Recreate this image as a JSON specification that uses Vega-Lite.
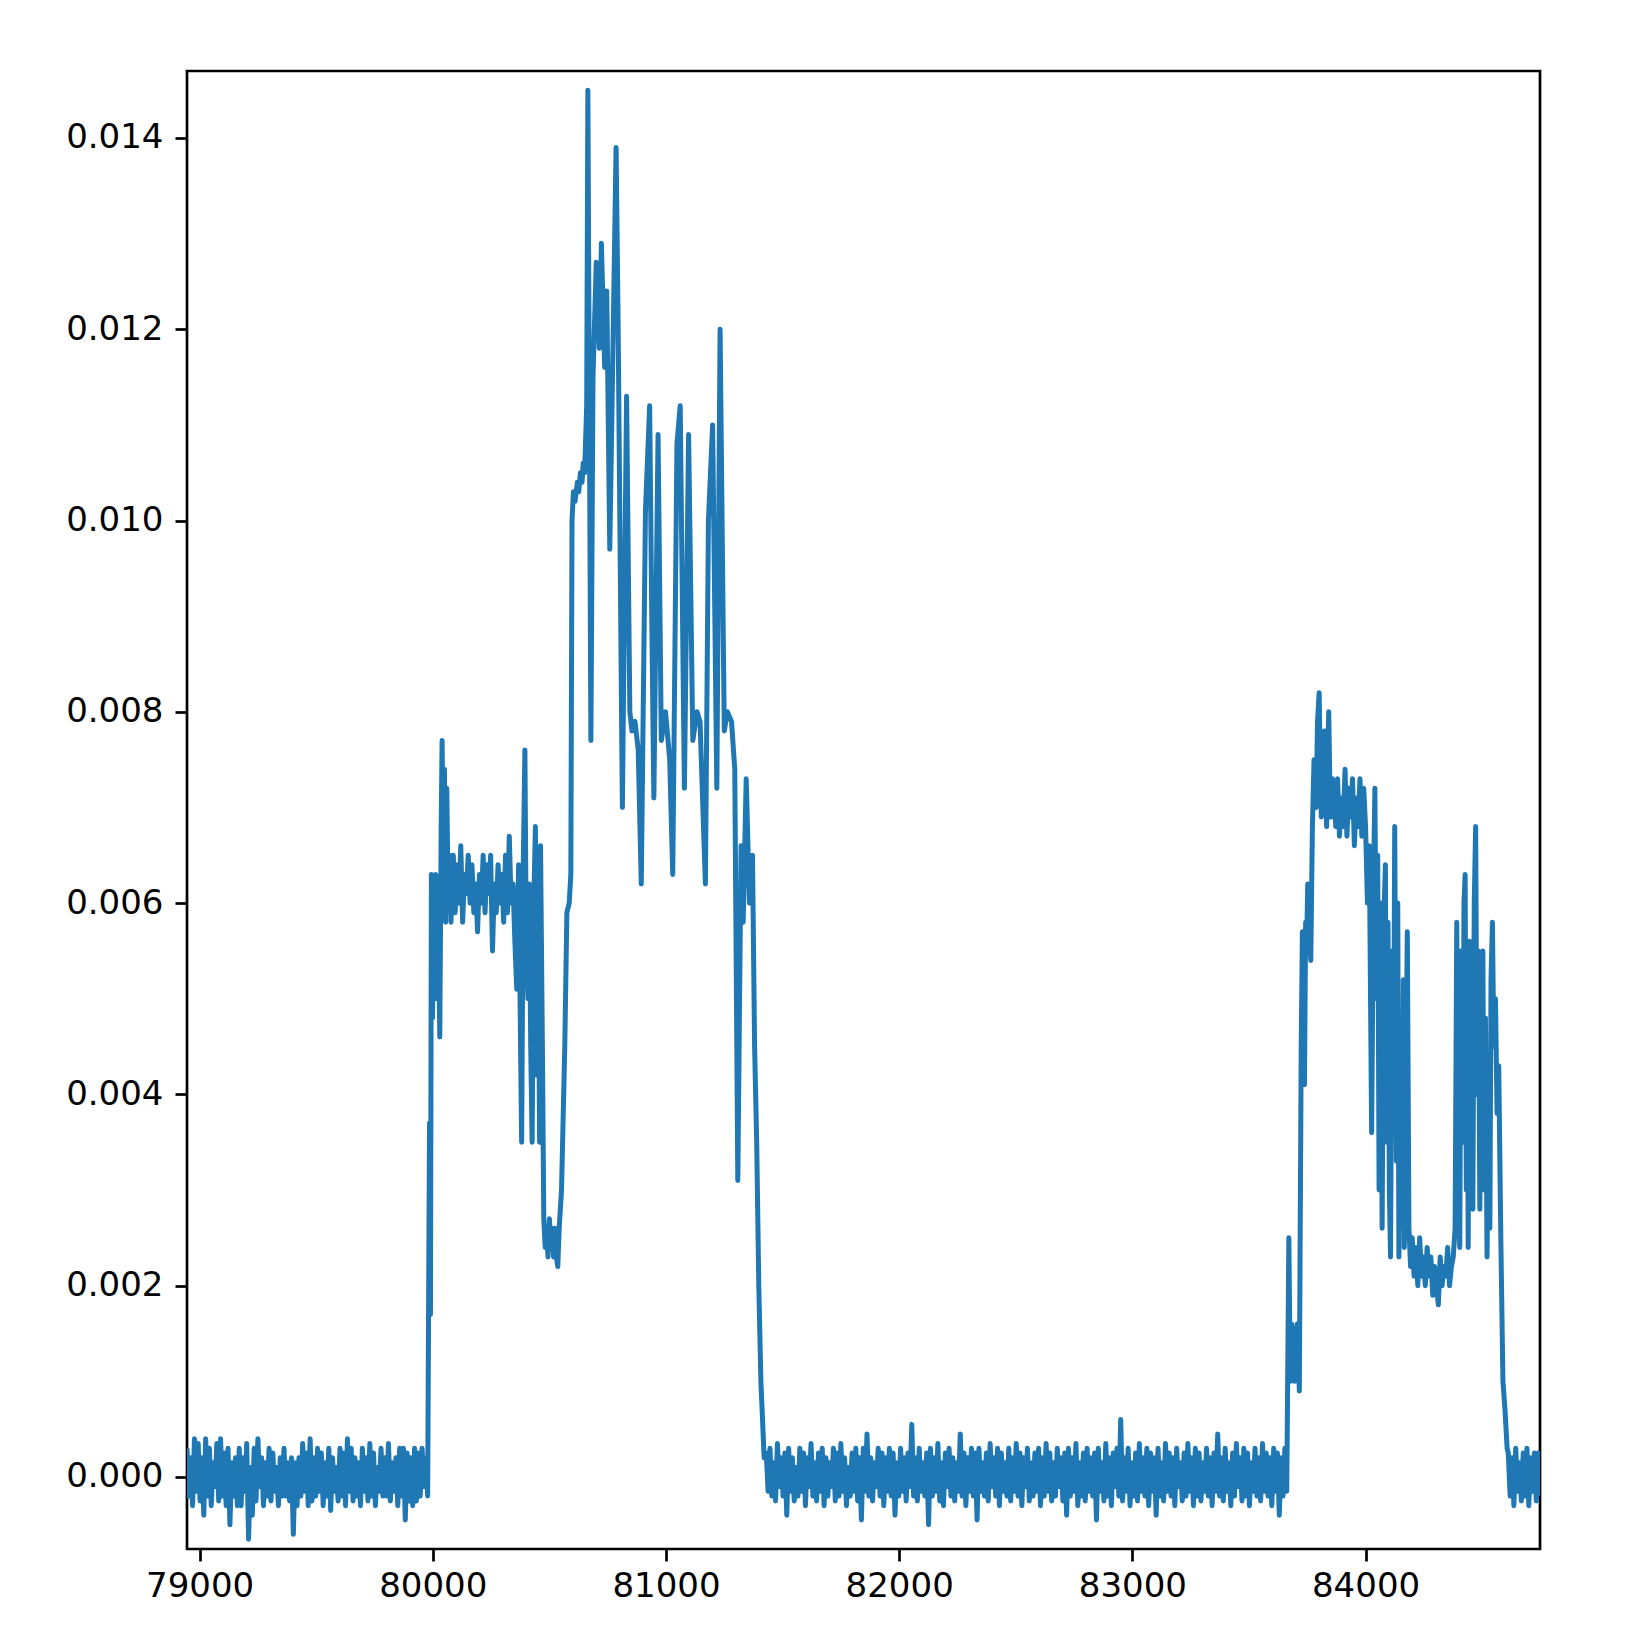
{
"$schema": "https://vega.github.io/schema/vega-lite/v6.json",
"width": 1353,
"height": 1478,
"autosize": {"type": "none"},
"padding": {"left": 187, "top": 71, "right": 101, "bottom": 94},
"background": "white",
"config": {
 "view": {"stroke": "black", "strokeWidth": 2.7},
 "axis": {"domain": false, "grid": false, "tickColor": "black", "tickWidth": 2.7, "tickSize": 12, "labelFont": "DejaVu Sans", "labelFontSize": 34, "labelColor": "black", "titleFont": "DejaVu Sans"}
},
"data": {"values": [
{"x":78946,"y":0.0003},{"x":78954,"y":-0.0002},{"x":78962,"y":0.0002},{"x":78970,"y":-0.0003},{"x":78978,"y":0.0004},{"x":78986,"y":-0.00015},{"x":78994,"y":0.00035},{"x":79002,"y":-0.00025},{"x":79010,"y":0.0002},{"x":79018,"y":-0.0004},
{"x":79026,"y":0.0004},{"x":79034,"y":-0.0002},{"x":79042,"y":0.0003},{"x":79050,"y":-0.0003},{"x":79058,"y":0.00015},{"x":79066,"y":-0.0001},{"x":79074,"y":0.00035},{"x":79082,"y":-0.00025},{"x":79090,"y":0.0004},{"x":79098,"y":-0.0002},
{"x":79106,"y":0.00025},{"x":79114,"y":-0.0003},{"x":79122,"y":0.0003},{"x":79130,"y":-0.0005},{"x":79138,"y":0.00015},{"x":79146,"y":-0.0002},{"x":79154,"y":0.0002},{"x":79162,"y":-0.0003},{"x":79170,"y":0.0003},{"x":79178,"y":-0.0003},
{"x":79186,"y":0.0002},{"x":79194,"y":-0.00015},{"x":79202,"y":0.00035},{"x":79210,"y":-0.00065},{"x":79218,"y":0.0001},{"x":79226,"y":-0.0004},{"x":79234,"y":0.0003},{"x":79242,"y":-0.00025},{"x":79250,"y":0.0004},{"x":79258,"y":-0.0001},
{"x":79266,"y":0.0002},{"x":79274,"y":-0.0003},{"x":79282,"y":0.00015},{"x":79290,"y":-0.0002},{"x":79298,"y":0.0003},{"x":79306,"y":-0.00025},{"x":79314,"y":0.00025},{"x":79322,"y":-0.00015},{"x":79330,"y":0.0001},{"x":79338,"y":-0.0003},
{"x":79346,"y":0.0002},{"x":79354,"y":-0.0002},{"x":79362,"y":0.0003},{"x":79370,"y":-0.0002},{"x":79378,"y":0.00015},{"x":79386,"y":-0.00025},{"x":79394,"y":0.0002},{"x":79402,"y":-0.0006},{"x":79410,"y":0.00015},{"x":79418,"y":-0.0003},
{"x":79426,"y":0.0002},{"x":79434,"y":-0.0002},{"x":79442,"y":0.00035},{"x":79450,"y":-0.00015},{"x":79458,"y":0.00025},{"x":79466,"y":-0.0003},{"x":79474,"y":0.0004},{"x":79482,"y":-0.00025},{"x":79490,"y":0.0002},{"x":79498,"y":-0.0002},
{"x":79506,"y":0.0003},{"x":79514,"y":-0.00015},{"x":79522,"y":0.00025},{"x":79530,"y":-0.0003},{"x":79538,"y":0.00015},{"x":79546,"y":-0.0002},{"x":79554,"y":0.0003},{"x":79562,"y":-0.00035},{"x":79570,"y":0.0002},{"x":79578,"y":-0.00015},
{"x":79586,"y":0.0001},{"x":79594,"y":-0.00025},{"x":79602,"y":0.0003},{"x":79610,"y":-0.0002},{"x":79618,"y":0.00025},{"x":79626,"y":-0.0003},{"x":79634,"y":0.0004},{"x":79642,"y":-0.00015},{"x":79650,"y":0.0003},{"x":79658,"y":-0.00025},
{"x":79666,"y":0.0002},{"x":79674,"y":-0.0002},{"x":79682,"y":0.00015},{"x":79690,"y":-0.0003},{"x":79698,"y":0.0003},{"x":79706,"y":-0.00015},{"x":79714,"y":0.0002},{"x":79722,"y":-0.00025},{"x":79730,"y":0.00035},{"x":79738,"y":-0.0002},
{"x":79746,"y":0.00025},{"x":79754,"y":-0.0003},{"x":79762,"y":0.0001},{"x":79770,"y":-0.00015},{"x":79778,"y":0.0003},{"x":79786,"y":-0.0002},{"x":79794,"y":0.0002},{"x":79802,"y":-0.0002},{"x":79810,"y":0.00035},{"x":79818,"y":-0.00025},
{"x":79826,"y":0.00015},{"x":79834,"y":-0.00015},{"x":79842,"y":0.0002},{"x":79850,"y":-0.0003},{"x":79858,"y":0.0003},{"x":79866,"y":-0.0002},{"x":79874,"y":0.0003},{"x":79882,"y":-0.00045},{"x":79890,"y":0.00025},{"x":79898,"y":-0.00025},
{"x":79906,"y":0.0002},{"x":79914,"y":-0.0003},{"x":79922,"y":0.0003},{"x":79930,"y":-0.00025},{"x":79938,"y":0.00025},{"x":79946,"y":-0.0002},{"x":79954,"y":0.0003},{"x":79962,"y":-0.0001},{"x":79970,"y":0.0002},{"x":79978,"y":-0.0002},
{"x":79986,"y":0.0037},{"x":79990,"y":0.0017},{"x":79994,"y":0.0063},{"x":79999,"y":0.0048},{"x":80004,"y":0.0062},{"x":80008,"y":0.0052},{"x":80013,"y":0.0063},{"x":80018,"y":0.005},{"x":80024,"y":0.0058},{"x":80030,"y":0.0046},{"x":80036,"y":0.0068},{"x":80040,"y":0.0077},{"x":80045,"y":0.0065},{"x":80050,"y":0.0074},{"x":80055,"y":0.0058},{"x":80060,"y":0.0072},{"x":80066,"y":0.006},{"x":80072,"y":0.0065},{"x":80078,"y":0.0058},
{"x":80088,"y":0.0065},{"x":80096,"y":0.0059},{"x":80104,"y":0.0064},{"x":80112,"y":0.006},{"x":80120,"y":0.0066},{"x":80128,"y":0.0058},{"x":80136,"y":0.0063},{"x":80144,"y":0.0061},{"x":80152,"y":0.0065},{"x":80160,"y":0.006},{"x":80168,"y":0.0064},{"x":80176,"y":0.0059},{"x":80184,"y":0.0062},{"x":80192,"y":0.0057},{"x":80200,"y":0.0063},{"x":80208,"y":0.006},{"x":80216,"y":0.0065},{"x":80224,"y":0.0059},{"x":80232,"y":0.0064},{"x":80240,"y":0.0061},{"x":80248,"y":0.0065},{"x":80256,"y":0.0055},{"x":80264,"y":0.0062},{"x":80272,"y":0.0059},{"x":80280,"y":0.0064},{"x":80288,"y":0.006},{"x":80296,"y":0.0063},{"x":80304,"y":0.0058},{"x":80312,"y":0.0065},{"x":80320,"y":0.0059},{"x":80328,"y":0.0067},{"x":80336,"y":0.006},{"x":80344,"y":0.0062},{"x":80352,"y":0.0056},{"x":80360,"y":0.0051},{"x":80368,"y":0.0064},{"x":80376,"y":0.0046},
{"x":80381,"y":0.0035},{"x":80388,"y":0.0064},{"x":80395,"y":0.0076},{"x":80401,"y":0.0055},{"x":80408,"y":0.005},{"x":80414,"y":0.0062},{"x":80420,"y":0.0045},{"x":80426,"y":0.0035},{"x":80433,"y":0.006},{"x":80440,"y":0.0068},{"x":80446,"y":0.0042},{"x":80453,"y":0.0055},{"x":80458,"y":0.0035},{"x":80462,"y":0.0066},{"x":80470,"y":0.0045},
{"x":80476,"y":0.0027},{"x":80482,"y":0.0024},{"x":80488,"y":0.0026},{"x":80494,"y":0.0023},{"x":80500,"y":0.0027},{"x":80506,"y":0.0024},{"x":80512,"y":0.0026},{"x":80518,"y":0.0023},{"x":80524,"y":0.0026},{"x":80530,"y":0.0023},{"x":80536,"y":0.0022},{"x":80542,"y":0.0026},
{"x":80552,"y":0.003},{"x":80566,"y":0.0045},{"x":80575,"y":0.0059},{"x":80585,"y":0.006},{"x":80592,"y":0.0063},{"x":80597,"y":0.01},{"x":80603,"y":0.0103},{"x":80610,"y":0.0102},{"x":80620,"y":0.0104},{"x":80626,"y":0.0103},{"x":80633,"y":0.0105},{"x":80640,"y":0.0104},{"x":80645,"y":0.0106},{"x":80651,"y":0.0105},{"x":80660,"y":0.0112},{"x":80665,"y":0.0145},{"x":80678,"y":0.0077},{"x":80687,"y":0.0115},{"x":80701,"y":0.0127},{"x":80714,"y":0.0118},{"x":80723,"y":0.0129},{"x":80737,"y":0.0116},{"x":80746,"y":0.0124},{"x":80759,"y":0.0097},{"x":80768,"y":0.0111},{"x":80786,"y":0.0139},{"x":80795,"y":0.012},{"x":80813,"y":0.007},{"x":80831,"y":0.0113},{"x":80845,"y":0.008},{"x":80854,"y":0.0078},{"x":80867,"y":0.0079},{"x":80881,"y":0.0076},{"x":80894,"y":0.0062},{"x":80912,"y":0.0101},{"x":80930,"y":0.0112},{"x":80939,"y":0.009},{"x":80948,"y":0.0071},{"x":80966,"y":0.0109},{"x":80980,"y":0.0077},{"x":80998,"y":0.008},{"x":81016,"y":0.0075},{"x":81029,"y":0.0063},{"x":81047,"y":0.0108},{"x":81061,"y":0.0112},{"x":81079,"y":0.0072},{"x":81097,"y":0.0109},{"x":81115,"y":0.0077},{"x":81133,"y":0.008},{"x":81146,"y":0.0079},{"x":81169,"y":0.0062},{"x":81182,"y":0.01},{"x":81200,"y":0.011},{"x":81218,"y":0.0072},{"x":81232,"y":0.012},{"x":81250,"y":0.0078},{"x":81263,"y":0.008},{"x":81281,"y":0.0079},{"x":81295,"y":0.0074},{"x":81308,"y":0.0031},{"x":81322,"y":0.0066},{"x":81331,"y":0.0058},{"x":81344,"y":0.0073},{"x":81358,"y":0.006},{"x":81371,"y":0.0065},{"x":81380,"y":0.0045},{"x":81389,"y":0.0035},{"x":81398,"y":0.002},{"x":81407,"y":0.001},{"x":81421,"y":0.0002},
{"x":81430,"y":0.00025},{"x":81438,"y":-0.00015},{"x":81446,"y":0.0003},{"x":81454,"y":-0.0002},{"x":81462,"y":0.00015},{"x":81470,"y":-0.00025},{"x":81478,"y":0.00035},{"x":81486,"y":-0.0001},{"x":81494,"y":0.0002},{"x":81502,"y":-0.0002},
{"x":81510,"y":0.00025},{"x":81518,"y":-0.0004},{"x":81526,"y":0.0003},{"x":81534,"y":-0.00015},{"x":81542,"y":0.0002},{"x":81550,"y":-0.00025},{"x":81558,"y":0.0001},{"x":81566,"y":-0.0002},{"x":81574,"y":0.0003},{"x":81582,"y":-0.00015},
{"x":81590,"y":0.00025},{"x":81598,"y":-0.0003},{"x":81606,"y":0.0002},{"x":81614,"y":-0.0001},{"x":81622,"y":0.00035},{"x":81630,"y":-0.0002},{"x":81638,"y":0.00015},{"x":81646,"y":-0.00025},{"x":81654,"y":0.00025},{"x":81662,"y":-0.00015},
{"x":81670,"y":0.0003},{"x":81678,"y":-0.0003},{"x":81686,"y":0.0002},{"x":81694,"y":-0.0002},{"x":81702,"y":0.00015},{"x":81710,"y":-0.0001},{"x":81718,"y":0.0003},{"x":81726,"y":-0.00025},{"x":81734,"y":0.00025},{"x":81742,"y":-0.0002},
{"x":81750,"y":0.00035},{"x":81758,"y":-0.00015},{"x":81766,"y":0.0002},{"x":81774,"y":-0.0003},{"x":81782,"y":0.0001},{"x":81790,"y":-0.0002},{"x":81798,"y":0.00025},{"x":81806,"y":-0.00015},{"x":81814,"y":0.0003},{"x":81822,"y":-0.00025},
{"x":81830,"y":0.0002},{"x":81838,"y":-0.00045},{"x":81846,"y":0.0003},{"x":81854,"y":-0.00015},{"x":81862,"y":0.00045},{"x":81870,"y":-0.0002},{"x":81878,"y":0.0002},{"x":81886,"y":-0.00025},{"x":81894,"y":0.00015},{"x":81902,"y":-0.0001},
{"x":81910,"y":0.0003},{"x":81918,"y":-0.0002},{"x":81926,"y":0.00025},{"x":81934,"y":-0.0003},{"x":81942,"y":0.0002},{"x":81950,"y":-0.00015},{"x":81958,"y":0.0003},{"x":81966,"y":-0.0002},{"x":81974,"y":0.00025},{"x":81982,"y":-0.0004},
{"x":81990,"y":0.00015},{"x":81998,"y":-0.0002},{"x":82006,"y":0.0003},{"x":82014,"y":-0.00015},{"x":82022,"y":0.0002},{"x":82030,"y":-0.00025},{"x":82038,"y":0.00025},{"x":82046,"y":-0.0001},{"x":82054,"y":0.00055},{"x":82062,"y":-0.0002},
{"x":82070,"y":0.0002},{"x":82078,"y":-0.00025},{"x":82086,"y":0.0003},{"x":82094,"y":-0.00015},{"x":82102,"y":0.00015},{"x":82110,"y":-0.0002},{"x":82118,"y":0.00025},{"x":82126,"y":-0.0005},{"x":82134,"y":0.0003},{"x":82142,"y":-0.0002},
{"x":82150,"y":0.0002},{"x":82158,"y":-0.00015},{"x":82166,"y":0.00035},{"x":82174,"y":-0.00025},{"x":82182,"y":0.00015},{"x":82190,"y":-0.0003},{"x":82198,"y":0.00025},{"x":82206,"y":-0.0001},{"x":82214,"y":0.0003},{"x":82222,"y":-0.0002},
{"x":82230,"y":0.0002},{"x":82238,"y":-0.00025},{"x":82246,"y":0.00015},{"x":82254,"y":-0.00015},{"x":82262,"y":0.00045},{"x":82270,"y":-0.0002},{"x":82278,"y":0.00025},{"x":82286,"y":-0.0003},{"x":82294,"y":0.0002},{"x":82302,"y":-0.00015},
{"x":82310,"y":0.0003},{"x":82318,"y":-0.0002},{"x":82326,"y":0.00025},{"x":82334,"y":-0.00045},{"x":82342,"y":0.0003},{"x":82350,"y":-0.00015},{"x":82358,"y":0.00015},{"x":82366,"y":-0.0002},{"x":82374,"y":0.00025},{"x":82382,"y":-0.00025},
{"x":82390,"y":0.00035},{"x":82398,"y":-0.0001},{"x":82406,"y":0.0002},{"x":82414,"y":-0.0002},{"x":82422,"y":0.0003},{"x":82430,"y":-0.0003},{"x":82438,"y":0.00025},{"x":82446,"y":-0.00015},{"x":82454,"y":0.00015},{"x":82462,"y":-0.0002},
{"x":82470,"y":0.0003},{"x":82478,"y":-0.00025},{"x":82486,"y":0.0002},{"x":82494,"y":-0.00015},{"x":82502,"y":0.00035},{"x":82510,"y":-0.0002},{"x":82518,"y":0.00025},{"x":82526,"y":-0.0003},{"x":82534,"y":0.0002},{"x":82542,"y":-0.0001},
{"x":82550,"y":0.0003},{"x":82558,"y":-0.00025},{"x":82566,"y":0.00015},{"x":82574,"y":-0.0002},{"x":82582,"y":0.00025},{"x":82590,"y":-0.00015},{"x":82598,"y":0.0003},{"x":82606,"y":-0.0003},{"x":82614,"y":0.0002},{"x":82622,"y":-0.0002},
{"x":82630,"y":0.00035},{"x":82638,"y":-0.00015},{"x":82646,"y":0.00025},{"x":82654,"y":-0.00025},{"x":82662,"y":0.00015},{"x":82670,"y":-0.0002},{"x":82678,"y":0.0003},{"x":82686,"y":-0.0001},{"x":82694,"y":0.0002},{"x":82702,"y":-0.00025},
{"x":82710,"y":0.00025},{"x":82718,"y":-0.0004},{"x":82726,"y":0.0003},{"x":82734,"y":-0.0002},{"x":82742,"y":0.0002},{"x":82750,"y":-0.00015},{"x":82758,"y":0.00035},{"x":82766,"y":-0.0003},{"x":82774,"y":0.00015},{"x":82782,"y":-0.0002},
{"x":82790,"y":0.00025},{"x":82798,"y":-0.00025},{"x":82806,"y":0.0003},{"x":82814,"y":-0.00015},{"x":82822,"y":0.0002},{"x":82830,"y":-0.0002},{"x":82838,"y":0.00025},{"x":82846,"y":-0.00045},{"x":82854,"y":0.0003},{"x":82862,"y":-0.00015},
{"x":82870,"y":0.00015},{"x":82878,"y":-0.00025},{"x":82886,"y":0.00035},{"x":82894,"y":-0.0002},{"x":82902,"y":0.0002},{"x":82910,"y":-0.0003},{"x":82918,"y":0.00025},{"x":82926,"y":-0.0001},{"x":82934,"y":0.0003},{"x":82942,"y":-0.0002},
{"x":82950,"y":0.0006},{"x":82958,"y":-0.00025},{"x":82966,"y":0.0002},{"x":82974,"y":-0.00015},{"x":82982,"y":0.0003},{"x":82990,"y":-0.0003},{"x":82998,"y":0.00015},{"x":83006,"y":-0.0002},{"x":83014,"y":0.00025},{"x":83022,"y":-0.00025},
{"x":83030,"y":0.00035},{"x":83038,"y":-0.00015},{"x":83046,"y":0.0002},{"x":83054,"y":-0.0002},{"x":83062,"y":0.0003},{"x":83070,"y":-0.0003},{"x":83078,"y":0.00025},{"x":83086,"y":-0.00015},{"x":83094,"y":0.0002},{"x":83102,"y":-0.0004},
{"x":83110,"y":0.0003},{"x":83118,"y":-0.0002},{"x":83126,"y":0.00015},{"x":83134,"y":-0.00025},{"x":83142,"y":0.00035},{"x":83150,"y":-0.00015},{"x":83158,"y":0.00025},{"x":83166,"y":-0.0002},{"x":83174,"y":0.0002},{"x":83182,"y":-0.0003},
{"x":83190,"y":0.0003},{"x":83198,"y":-0.0001},{"x":83206,"y":0.00015},{"x":83214,"y":-0.00025},{"x":83222,"y":0.00025},{"x":83230,"y":-0.0002},{"x":83238,"y":0.00035},{"x":83246,"y":-0.00015},{"x":83254,"y":0.0002},{"x":83262,"y":-0.0003},
{"x":83270,"y":0.0003},{"x":83278,"y":-0.0002},{"x":83286,"y":0.00025},{"x":83294,"y":-0.00025},{"x":83302,"y":0.00015},{"x":83310,"y":-0.00015},{"x":83318,"y":0.0003},{"x":83326,"y":-0.0002},{"x":83334,"y":0.0002},{"x":83342,"y":-0.0003},
{"x":83350,"y":0.00025},{"x":83358,"y":-0.00015},{"x":83366,"y":0.00045},{"x":83374,"y":-0.0002},{"x":83382,"y":0.0002},{"x":83390,"y":-0.00025},{"x":83398,"y":0.0003},{"x":83406,"y":-0.00015},{"x":83414,"y":0.00015},{"x":83422,"y":-0.0003},
{"x":83430,"y":0.00025},{"x":83438,"y":-0.0002},{"x":83446,"y":0.00035},{"x":83454,"y":-0.0001},{"x":83462,"y":0.0002},{"x":83470,"y":-0.00025},{"x":83478,"y":0.0003},{"x":83486,"y":-0.0002},{"x":83494,"y":0.00025},{"x":83502,"y":-0.0003},
{"x":83510,"y":0.00015},{"x":83518,"y":-0.00015},{"x":83526,"y":0.0003},{"x":83534,"y":-0.0002},{"x":83542,"y":0.0002},{"x":83550,"y":-0.00025},{"x":83558,"y":0.00035},{"x":83566,"y":-0.00015},{"x":83574,"y":0.00025},{"x":83582,"y":-0.0002},
{"x":83590,"y":0.0002},{"x":83598,"y":-0.0003},{"x":83606,"y":0.0003},{"x":83614,"y":-0.00015},{"x":83622,"y":0.00025},{"x":83630,"y":-0.0004},{"x":83638,"y":0.0002},{"x":83646,"y":-0.0002},{"x":83654,"y":0.0003},{"x":83662,"y":-0.00015},
{"x":83671,"y":0.0025},{"x":83677,"y":0.001},{"x":83683,"y":0.0016},{"x":83689,"y":0.0012},{"x":83695,"y":0.001},{"x":83701,"y":0.0015},{"x":83707,"y":0.0016},{"x":83716,"y":0.0009},{"x":83724,"y":0.0045},{"x":83729,"y":0.0057},{"x":83734,"y":0.0048},{"x":83738,"y":0.0041},{"x":83743,"y":0.0058},{"x":83747,"y":0.0055},{"x":83752,"y":0.0062},{"x":83756,"y":0.0061},{"x":83761,"y":0.0056},{"x":83765,"y":0.0054},{"x":83772,"y":0.0068},{"x":83779,"y":0.0075},{"x":83784,"y":0.0072},{"x":83788,"y":0.007},{"x":83794,"y":0.0079},{"x":83801,"y":0.0082},{"x":83806,"y":0.0074},{"x":83810,"y":0.0069},{"x":83817,"y":0.0077},{"x":83824,"y":0.0078},{"x":83829,"y":0.0071},{"x":83833,"y":0.0068},{"x":83838,"y":0.0076},{"x":83842,"y":0.008},{"x":83847,"y":0.0072},{"x":83852,"y":0.0069},{"x":83858,"y":0.0073},
{"x":83864,"y":0.0072},{"x":83872,"y":0.0068},{"x":83880,"y":0.0073},{"x":83888,"y":0.0067},{"x":83896,"y":0.0071},{"x":83904,"y":0.0068},{"x":83912,"y":0.0074},{"x":83920,"y":0.0067},{"x":83928,"y":0.0072},{"x":83936,"y":0.0069},{"x":83944,"y":0.0073},{"x":83952,"y":0.0066},{"x":83960,"y":0.0071},{"x":83968,"y":0.0068},{"x":83976,"y":0.0073},{"x":83984,"y":0.0067},{"x":83992,"y":0.0072},{"x":84000,"y":0.0068},
{"x":84008,"y":0.006},{"x":84016,"y":0.0066},{"x":84026,"y":0.0036},{"x":84034,"y":0.0062},{"x":84040,"y":0.0072},{"x":84046,"y":0.005},{"x":84052,"y":0.0065},{"x":84058,"y":0.003},{"x":84064,"y":0.006},{"x":84071,"y":0.0026},{"x":84078,"y":0.0058},{"x":84085,"y":0.0064},{"x":84090,"y":0.0035},{"x":84096,"y":0.0058},{"x":84102,"y":0.003},{"x":84107,"y":0.0023},{"x":84114,"y":0.0055},{"x":84120,"y":0.004},{"x":84125,"y":0.0068},{"x":84132,"y":0.0033},{"x":84138,"y":0.006},{"x":84143,"y":0.0023},{"x":84150,"y":0.0045},{"x":84157,"y":0.003},{"x":84162,"y":0.0052},{"x":84166,"y":0.0024},{"x":84172,"y":0.004},{"x":84179,"y":0.0057},{"x":84186,"y":0.0026},
{"x":84193,"y":0.0022},{"x":84200,"y":0.0025},{"x":84208,"y":0.0021},{"x":84216,"y":0.0024},{"x":84224,"y":0.002},{"x":84232,"y":0.0025},{"x":84240,"y":0.0021},{"x":84248,"y":0.0023},{"x":84256,"y":0.002},{"x":84264,"y":0.0024},{"x":84272,"y":0.0021},{"x":84280,"y":0.0023},{"x":84288,"y":0.0019},{"x":84296,"y":0.0022},{"x":84304,"y":0.002},{"x":84312,"y":0.0018},{"x":84320,"y":0.0023},{"x":84328,"y":0.002},{"x":84336,"y":0.0022},{"x":84344,"y":0.0021},{"x":84352,"y":0.0024},{"x":84360,"y":0.002},{"x":84368,"y":0.0022},{"x":84376,"y":0.0023},
{"x":84384,"y":0.0026},{"x":84391,"y":0.0058},{"x":84397,"y":0.003},{"x":84404,"y":0.0024},{"x":84409,"y":0.0055},{"x":84413,"y":0.005},{"x":84418,"y":0.0035},{"x":84422,"y":0.006},{"x":84427,"y":0.0063},{"x":84432,"y":0.003},{"x":84436,"y":0.0052},{"x":84440,"y":0.0024},{"x":84446,"y":0.0056},{"x":84450,"y":0.0035},{"x":84454,"y":0.0045},{"x":84460,"y":0.0028},{"x":84466,"y":0.006},{"x":84472,"y":0.0068},{"x":84478,"y":0.004},{"x":84484,"y":0.0055},{"x":84490,"y":0.0028},{"x":84496,"y":0.0047},{"x":84503,"y":0.0055},{"x":84508,"y":0.003},{"x":84514,"y":0.0048},{"x":84521,"y":0.0023},{"x":84527,"y":0.004},{"x":84533,"y":0.0026},{"x":84538,"y":0.0052},{"x":84544,"y":0.0058},{"x":84550,"y":0.0045},{"x":84557,"y":0.005},{"x":84564,"y":0.0038},{"x":84571,"y":0.0043},{"x":84580,"y":0.0025},{"x":84589,"y":0.001},{"x":84598,"y":0.0007},{"x":84607,"y":0.0003},
{"x":84612,"y":0.00025},{"x":84620,"y":-0.0002},{"x":84628,"y":0.0002},{"x":84636,"y":-0.0003},{"x":84644,"y":0.0003},{"x":84652,"y":-0.00015},{"x":84660,"y":0.00015},{"x":84668,"y":-0.00025},{"x":84676,"y":0.00025},{"x":84684,"y":-0.0002},{"x":84692,"y":0.0003},{"x":84700,"y":-0.0003},{"x":84708,"y":0.0002},{"x":84716,"y":-0.00015},{"x":84724,"y":0.00025},{"x":84732,"y":-0.00025},{"x":84740,"y":0.00025},{"x":84748,"y":-0.0002}
]},
"mark": {"type": "line", "color": "#1f77b4", "strokeWidth": 5, "strokeJoin": "round", "clip": true},
"encoding": {
 "x": {"field": "x", "type": "quantitative", "scale": {"domain": [78946, 84748], "nice": false, "zero": false},
   "axis": {"title": null, "values": [79000, 80000, 81000, 82000, 83000, 84000], "format": "d", "labelPadding": 8}},
 "y": {"field": "y", "type": "quantitative", "scale": {"domain": [-0.000753, 0.0147], "nice": false, "zero": false},
   "axis": {"title": null, "values": [0, 0.002, 0.004, 0.006, 0.008, 0.01, 0.012, 0.014], "format": ".3f", "labelPadding": 12}}
}
}
